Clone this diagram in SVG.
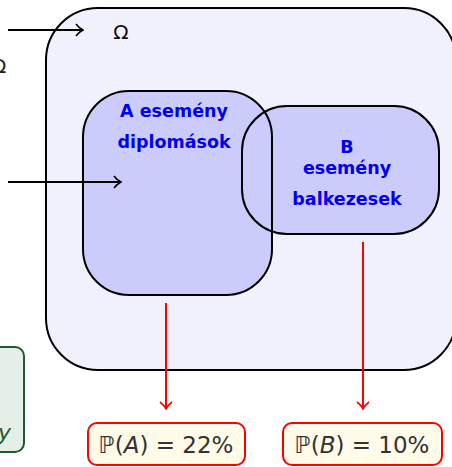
<svg xmlns="http://www.w3.org/2000/svg" width="452" height="467" viewBox="0 0 452 467">
<defs>
<marker id="ah" viewBox="0 0 10 14" refX="9" refY="7" markerWidth="10" markerHeight="14" markerUnits="userSpaceOnUse" orient="auto">
<path d="M2,1 Q5,5 9,7 Q5,9 2,13" fill="none" stroke="#000" stroke-width="1.6"/>
</marker>
<marker id="ahr" viewBox="0 0 10 14" refX="9" refY="7" markerWidth="10" markerHeight="14" markerUnits="userSpaceOnUse" orient="auto">
<path d="M2,1 Q5,5 9,7 Q5,9 2,13" fill="none" stroke="#f00" stroke-width="1.6"/>
</marker>
</defs>
<style>
.lbl{font-family:"DejaVu Sans",sans-serif;font-weight:bold;fill:#0000ee;font-size:17.5px;text-anchor:middle}
.prob{font-family:"DejaVu Sans",sans-serif;font-size:23px;fill:#333;text-anchor:middle}
.rbox{fill:#fefbe9;stroke:#f00;stroke-width:2}
.evf{fill:#ccccfc;stroke:none}
.evs{fill:none;stroke:#000;stroke-width:2}
</style>
<rect width="452" height="467" fill="#fff"/>
<g id="left-partial">
<text x="-9" y="73" font-family="DejaVu Sans, sans-serif" font-size="20" fill="#222">Ω</text>
<rect x="-30" y="347" width="54" height="105" rx="9" fill="#e6eee8" stroke="#1a5c2e" stroke-width="2"/>
<text x="11" y="440" font-family="DejaVu Sans, sans-serif" font-style="italic" font-size="22" fill="#1a5c2e" text-anchor="end">y</text>
</g>
<g id="omega">
<rect x="46" y="8" width="410" height="362" rx="52" fill="#f1f1fe" stroke="#000" stroke-width="2"/>
<text x="121" y="39" font-family="DejaVu Sans, sans-serif" font-size="20" fill="#111" text-anchor="middle">Ω</text>
</g>
<g id="eventA">
<rect class="evf" x="83" y="91" width="189" height="204" rx="46"/>
</g>
<g id="eventB">
<rect class="evf" x="242" y="106" width="197" height="128" rx="45"/>
<rect class="evs" x="242" y="106" width="197" height="128" rx="45"/>
</g>
<g id="eventA-outline">
<rect class="evs" x="83" y="91" width="189" height="204" rx="46"/>
</g>
<g id="eventA-label">
<text class="lbl" x="174" y="117">A esemény</text>
<text class="lbl" x="174" y="148">diplomások</text>
</g>
<g id="eventB-label">
<text class="lbl" x="347" y="153">B</text>
<text class="lbl" x="347" y="174">esemény</text>
<text class="lbl" x="347" y="205">balkezesek</text>
</g>
<g id="pA">
<rect class="rbox" x="88" y="423" width="157" height="42" rx="9"/>
<text class="prob" x="166" y="453">ℙ(<tspan font-style="italic">A</tspan>) = 22%</text>
</g>
<g id="pB">
<rect class="rbox" x="283" y="423" width="159" height="42" rx="9"/>
<text class="prob" x="362" y="453">ℙ(<tspan font-style="italic">B</tspan>) = 10%</text>
</g>
<g id="connectors" fill="none">
<line x1="8" y1="30" x2="83" y2="30" stroke="#000" stroke-width="2" marker-end="url(#ah)"/>
<line x1="8" y1="182" x2="121" y2="182" stroke="#000" stroke-width="2" marker-end="url(#ah)"/>
<line x1="166" y1="303" x2="166" y2="409" stroke="#f00" stroke-width="2" marker-end="url(#ahr)"/>
<line x1="363" y1="242" x2="363" y2="409" stroke="#f00" stroke-width="2" marker-end="url(#ahr)"/>
</g>
</svg>
